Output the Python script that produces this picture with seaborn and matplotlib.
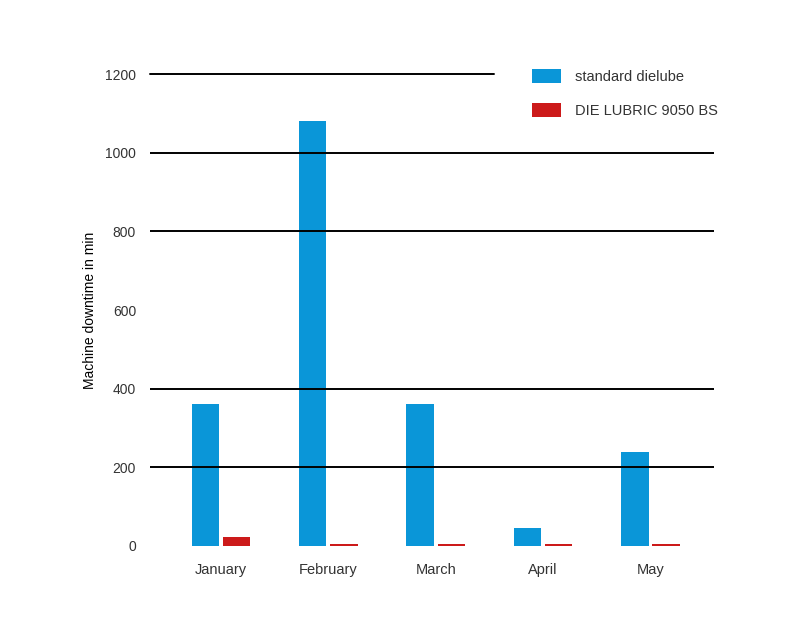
import pandas as pd
import seaborn as sns
import matplotlib.pyplot as plt

# values
months = ["January", "February", "March", "April", "May"]
standard_dielube = [360, 1080, 360, 45, 240]
die_lubric = [22, 4, 4, 4, 4]
series_names = ["standard dielube", "DIE LUBRIC 9050 BS"]
y_ticks = [0, 200, 400, 600, 800, 1000, 1200]
grid_values = [200, 400, 800, 1000]

df = pd.DataFrame({
    "month": months * 2,
    "series": [series_names[0]] * len(months) + [series_names[1]] * len(months),
    "value": standard_dielube + die_lubric,
})

sns.set_style("white")
plt.rcParams["font.family"] = ["Liberation Sans", "DejaVu Sans"]
text_color = "#333333"

fig = plt.figure(figsize=(8, 6.4), dpi=100)
ax = fig.add_axes([0.1875, 0.147, 0.705, 0.737])

palette = {series_names[0]: "#0a96d8", series_names[1]: "#cc1a1a"}
sns.barplot(data=df, x="month", y="value", hue="series", palette=palette,
            width=0.58, gap=0.12, saturation=1, linewidth=0, edgecolor="none",
            ax=ax, legend=True)

# horizontal grid lines drawn over the bars (no line at 600, top one stops at the legend)
for v in grid_values:
    ax.axhline(v, color="black", lw=1.4, zorder=3)
ax.axhline(1200, xmin=0, xmax=0.61, color="black", lw=1.4, zorder=3, clip_on=False)

ax.set_ylim(0, 1200)
ax.set_xlim(-0.66, 4.59)
ax.set_yticks(y_ticks)
ax.set_yticklabels([str(t) for t in y_ticks], fontsize=10, color=text_color)
ax.set_xticklabels(months, fontsize=10.5, color=text_color)
ax.tick_params(axis="y", length=0, pad=10)
ax.tick_params(axis="x", length=0, pad=12)
ax.set_xlabel("")
ax.set_ylabel("Machine downtime in min", fontsize=10, color="black", labelpad=6)
sns.despine(ax=ax, left=True, bottom=True)

handles, labels = ax.get_legend_handles_labels()
ax.get_legend().remove()
fig.legend(handles, labels, loc="upper left", bbox_to_anchor=(0.649, 0.912),
           frameon=False, fontsize=10.5, labelcolor=text_color,
           handlelength=2.0, handleheight=1.1, handletextpad=0.9, labelspacing=1.3)

fig.savefig("out.png", dpi=100)
